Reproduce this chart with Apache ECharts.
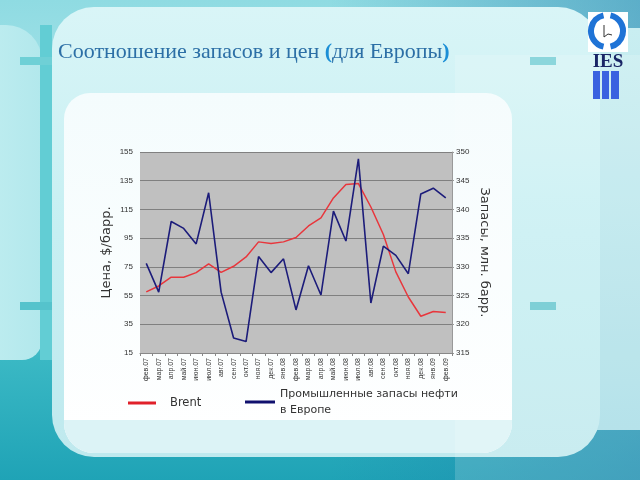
<!DOCTYPE html>
<html><head><meta charset="utf-8">
<script src="https://cdn.jsdelivr.net/npm/echarts@6/dist/echarts.min.js"></script>
<style>html,body{margin:0;padding:0;}#c{width:640px;height:480px;}</style>
</head><body><div id="c"></div>
<script>
const categories = ['фев.07','мар.07','апр.07','май.07','июн.07','июл.07','авг.07','сен.07','окт.07','ноя.07','дек.07','янв.08','фев.08','мар.08','апр.08','май.08','июн.08','июл.08','авг.08','сен.08','окт.08','ноя.08','дек.08','янв.09','фев.09'];
const brent = [57.6, 61.7, 67.8, 67.8, 71.0, 77.0, 71.2, 75.4, 81.9, 92.4, 91.2, 92.4, 95.4, 103.5, 109.1, 123.0, 132.3, 133.0, 116.7, 97.5, 71.5, 54.0, 40.6, 43.9, 43.2];
const stocks = [330.6, 325.6, 337.9, 336.7, 334.0, 342.9, 325.6, 317.6, 317.0, 331.8, 329.0, 331.4, 322.5, 330.2, 325.1, 339.7, 334.5, 348.8, 323.7, 333.6, 332.0, 328.8, 342.7, 343.7, 342.0];
const seriesNames = ['Brent', 'Промышленные запасы нефти\nв Европе'];
const titleText = 'Соотношение запасов и цен ';

const chart = echarts.init(document.getElementById('c'), null, {renderer: 'canvas'});
const grad = (x, y, x2, y2, stops) => new echarts.graphic.LinearGradient(x, y, x2, y2, stops.map((c, i) => ({offset: i / (stops.length - 1), color: c})));

const bg = [
  {type: 'rect', shape: {x: 0, y: 0, width: 640, height: 480}, style: {fill: grad(0, 0, 0, 1, ['#8fdbe2', '#a9e4ea', '#8fdbe2', '#3ab8c4', '#1fa3b6'])}, z: -10, silent: true},
  {type: 'rect', shape: {x: 330, y: 0, width: 310, height: 480}, style: {fill: grad(0, 0, 1, 0, ['rgba(30,120,170,0)', 'rgba(30,120,170,0.45)'])}, z: -10, silent: true},
  {type: 'rect', shape: {x: -30, y: 25, width: 72, height: 335, r: [0, 36, 20, 0]}, style: {fill: grad(0, 0, 1, 0, ['#c2eef1', '#b2e8ec'])}, z: -9, silent: true},
  {type: 'rect', shape: {x: 40, y: 25, width: 12, height: 335}, style: {fill: '#62cdd4'}, z: -9, silent: true},
  {type: 'rect', shape: {x: 20, y: 57, width: 38, height: 8}, style: {fill: '#6fd0d6'}, z: -8, silent: true},
  {type: 'rect', shape: {x: 20, y: 302, width: 38, height: 8}, style: {fill: '#55c3cc'}, z: -8, silent: true},
  {type: 'rect', shape: {x: 528, y: 28, width: 112, height: 402, r: [30, 0, 0, 24]}, style: {fill: grad(0, 0, 0, 1, ['#c9eef1', '#a8dde6'])}, z: -9, silent: true},
  {type: 'rect', shape: {x: 52, y: 7, width: 548, height: 450, r: 42}, style: {fill: grad(0, 0, 0, 1, ['#d9f5f7', '#c6eff2', '#bfe9ee'])}, z: -8, silent: true},
  {type: 'rect', shape: {x: 530, y: 57, width: 26, height: 8}, style: {fill: '#77cfd6'}, z: -7, silent: true},
  {type: 'rect', shape: {x: 530, y: 302, width: 26, height: 8}, style: {fill: '#66c6cf'}, z: -7, silent: true},
  {type: 'rect', shape: {x: 64, y: 93, width: 448, height: 360, r: [26, 26, 30, 30]}, style: {fill: grad(0, 0, 0, 1, ['#f4fcfd', '#ffffff'])}, z: -7, silent: true},
  {type: 'rect', shape: {x: 64, y: 420, width: 448, height: 33, r: [0, 0, 30, 30]}, style: {fill: '#dcf3f6'}, z: -6, silent: true},
  {type: 'rect', shape: {x: 455, y: 55, width: 185, height: 425}, style: {fill: 'rgba(255,255,255,0.16)'}, z: -5, silent: true},
  // logo
  {type: 'rect', shape: {x: 588, y: 12, width: 40, height: 40}, style: {fill: '#ffffff'}, z: 5, silent: true},
  {type: 'arc', shape: {cx: 607, cy: 31, r: 16, startAngle: -Math.PI * 0.43, endAngle: Math.PI * 0.43}, style: {stroke: '#1f73d6', lineWidth: 6, fill: null}, z: 6, silent: true},
  {type: 'arc', shape: {cx: 607, cy: 31, r: 16, startAngle: Math.PI * 0.57, endAngle: Math.PI * 1.43}, style: {stroke: '#1f73d6', lineWidth: 6, fill: null}, z: 6, silent: true},
  {type: 'polyline', shape: {points: [[604, 25], [604, 37], [608, 34], [612, 35]]}, style: {stroke: '#333', lineWidth: 1, fill: null}, z: 6, silent: true},
  {type: 'text', style: {x: 608, y: 62, text: 'IES', font: 'bold 19px "Liberation Serif"', fill: '#1a2566', textAlign: 'center', textVerticalAlign: 'middle'}, z: 6, silent: true},
  {type: 'rect', shape: {x: 593, y: 71, width: 7, height: 28}, style: {fill: '#3a62e0'}, z: 6, silent: true},
  {type: 'rect', shape: {x: 602, y: 71, width: 7, height: 28}, style: {fill: '#3a62e0'}, z: 6, silent: true},
  {type: 'rect', shape: {x: 611, y: 71, width: 8, height: 28}, style: {fill: '#3a62e0'}, z: 6, silent: true},
  // title
  {type: 'text', style: {x: 58, y: 52, text: '{a|' + titleText + '}{p|(}{a|для Европы}{p|)}', rich: {a: {font: '22px "Liberation Serif"', fill: '#2c6fa6'}, p: {font: 'bold 22px "Liberation Serif"', fill: '#1c8fd6'}}, textVerticalAlign: 'middle'}, z: 6, silent: true}
];

chart.setOption({
  animation: false,
  graphic: bg,
  grid: {left: 140, right: 188, top: 152, bottom: 127, show: true, backgroundColor: '#c0c0c0', borderWidth: 0},
  legend: [
    {data: [seriesNames[0]], left: 123, top: 392, icon: 'rect', itemWidth: 28, itemHeight: 3, textStyle: {fontFamily: 'DejaVu Sans', fontSize: 11.5, color: '#333', padding: [0, 0, 0, 9]}},
    {data: [seriesNames[1]], left: 240, top: 381, icon: 'rect', itemWidth: 30, itemHeight: 3, textStyle: {fontFamily: 'DejaVu Sans', fontSize: 11, color: '#333', lineHeight: 16}}
  ],
  xAxis: {
    type: 'category', data: categories, boundaryGap: true,
    axisLine: {lineStyle: {color: '#888'}},
    axisTick: {show: true, length: 3, lineStyle: {color: '#888'}},
    axisLabel: {rotate: 90, fontSize: 7, color: '#333', fontFamily: 'Liberation Sans', margin: 5, interval: 0}
  },
  yAxis: [
    {type: 'value', min: 15, max: 155, interval: 20, position: 'left',
     name: 'Цена, $/барр.', nameLocation: 'middle', nameGap: 27, nameRotate: 90,
     nameTextStyle: {fontFamily: 'DejaVu Sans', fontSize: 13, color: '#333'},
     axisLine: {show: false}, axisTick: {show: false},
     axisLabel: {fontSize: 8, color: '#333', fontFamily: 'Liberation Sans', margin: 7},
     splitLine: {lineStyle: {color: '#808080', width: 1}}},
    {type: 'value', min: 315, max: 350, interval: 5, position: 'right',
     name: 'Запасы, млн. барр.', nameLocation: 'middle', nameGap: 26, nameRotate: -90,
     nameTextStyle: {fontFamily: 'DejaVu Sans', fontSize: 13, color: '#333'},
     axisLine: {show: true, lineStyle: {color: '#999'}}, axisTick: {show: true, length: 2, lineStyle: {color: '#999'}},
     axisLabel: {fontSize: 8, color: '#333', fontFamily: 'Liberation Sans', margin: 4},
     splitLine: {show: false}}
  ],
  series: [
    {name: seriesNames[0], type: 'line', yAxisIndex: 0, data: brent, symbol: 'none', lineStyle: {color: '#e8363c', width: 1.5}, itemStyle: {color: '#e0202a'}, z: 3},
    {name: seriesNames[1], type: 'line', yAxisIndex: 1, data: stocks, symbol: 'none', lineStyle: {color: '#1c1c7a', width: 1.6}, itemStyle: {color: '#10106e'}, z: 4}
  ]
});
</script></body></html>
